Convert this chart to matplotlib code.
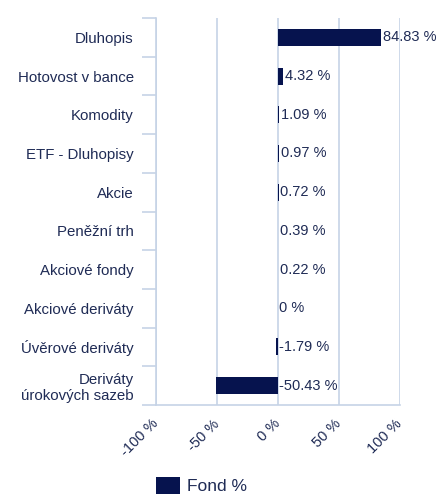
import matplotlib.pyplot as plt
import numpy as np

# data
categories = ['Dluhopis', 'Hotovost v bance', 'Komodity', 'ETF - Dluhopisy', 'Akcie',
              'Peněžní trh', 'Akciové fondy', 'Akciové deriváty', 'Úvěrové deriváty',
              'Deriváty\núrokových sazeb']
values = [84.83, 4.32, 1.09, 0.97, 0.72, 0.39, 0.22, 0, -1.79, -50.43]
xticks = [-100, -50, 0, 50, 100]
series_name = 'Fond %'

bar_color = '#06134e'
text_color = '#1f2b55'
grid_color = '#c6d3e6'

plt.rcParams['font.family'] = ['Liberation Sans', 'DejaVu Sans']

fig = plt.figure(figsize=(4.39, 4.95), dpi=100)
ax = fig.add_axes([156 / 439, 1 - 405 / 495, 244 / 439, 387 / 495])

y = np.arange(len(categories))
ax.barh(y, values, height=0.44, color=bar_color, label=series_name, zorder=3)

# value labels: right of bar end, or right of zero for negatives
for yi, v in zip(y, values):
    lbl = f'{v:g} %'
    ax.annotate(lbl, (max(v, 0), yi), xytext=(1, 0), textcoords='offset points',
                ha='left', va='center', fontsize=10.5, color=text_color, zorder=4)

ax.set_xlim(-100, 100)
ax.set_ylim(len(categories) - 0.5, -0.5)
ax.set_xticks(xticks)
ax.set_xticklabels([f'{t} %' for t in xticks], rotation=45, ha='right', va='center',
                   rotation_mode='anchor', fontsize=10.5, color=text_color)
ax.tick_params(axis='x', length=0, pad=12)
ax.set_yticks(y)
ax.set_yticklabels(categories, fontsize=10.8, color=text_color, ha='right', ma='right')
ax.tick_params(axis='y', which='major', length=0, pad=16)
ax.set_yticks(np.arange(len(categories) + 1) - 0.5, minor=True)
ax.tick_params(axis='y', which='minor', length=10, width=1.2, color=grid_color)

ax.grid(axis='x', color=grid_color, linewidth=1.2, zorder=0)
for s in ['top', 'right']:
    ax.spines[s].set_visible(False)
for s in ['left', 'bottom']:
    ax.spines[s].set_color(grid_color)
    ax.spines[s].set_linewidth(1.2)

fig.legend(loc='upper left', bbox_to_anchor=(156 / 439, 1 - 477 / 495), frameon=False,
           fontsize=12.5, labelcolor=text_color, handlelength=1.38, handleheight=1.1,
           handletextpad=0.4, borderpad=0, borderaxespad=0)

fig.savefig('out.png', dpi=100)
